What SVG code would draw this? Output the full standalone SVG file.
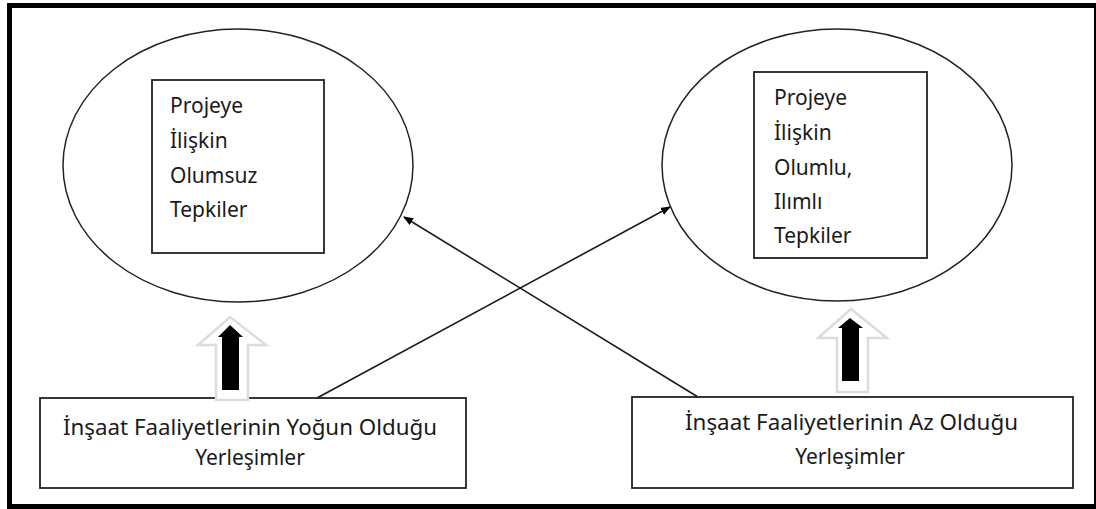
<svg xmlns="http://www.w3.org/2000/svg" width="1096" height="509" viewBox="0 0 1096 509">
<defs>
<style>
.ell{fill:none;stroke:#222;stroke-width:1.5}
.box{fill:#fff;stroke:#222;stroke-width:1.8}
.t{font-family:"Noto Sans","Open Sans",sans-serif;font-size:21px;fill:#1a1a1a}
.c{text-anchor:middle}
.con{stroke:#1a1a1a;stroke-width:1.6;fill:none}
.hollow{fill:#fff;stroke:#dcdcdc;stroke-width:2.5}
.solid{fill:#000}
</style>
<marker id="ah" markerWidth="10" markerHeight="8" refX="9" refY="4" orient="auto" markerUnits="userSpaceOnUse" viewBox="0 0 10 8">
<path d="M0,0 L10,4 L0,8 Z" fill="#000"/>
</marker>
</defs>
<rect x="0" y="0" width="1096" height="509" fill="#fff"/>
<rect x="9.5" y="5.5" width="1087" height="501" fill="none" stroke="#000" stroke-width="5"/>
<g id="node-negative">
<ellipse class="ell" cx="238" cy="165.5" rx="175" ry="136.5"/>
<rect class="box" x="152" y="80" width="172" height="173"/>
<text class="t" x="170" y="113">Projeye</text>
<text class="t" x="170" y="148">İlişkin</text>
<text class="t" x="170" y="183">Olumsuz</text>
<text class="t" x="170" y="217">Tepkiler</text>
</g>
<g id="node-positive">
<ellipse class="ell" cx="837" cy="165" rx="175" ry="136"/>
<rect class="box" x="754" y="72" width="173" height="186"/>
<text class="t" x="774" y="105">Projeye</text>
<text class="t" x="774" y="140">İlişkin</text>
<text class="t" x="774" y="175">Olumlu,</text>
<text class="t" x="774" y="209">Ilımlı</text>
<text class="t" x="774" y="243">Tepkiler</text>
</g>
<g id="node-dense">
<rect class="box" x="40" y="398" width="426" height="90"/>
<text class="t" x="63" y="435" textLength="374" lengthAdjust="spacingAndGlyphs">İnşaat Faaliyetlerinin Yoğun Olduğu</text>
<text class="t c" x="250" y="465">Yerleşimler</text>
</g>
<g id="node-sparse">
<rect class="box" x="632" y="397" width="441" height="91"/>
<text class="t" x="685" y="430" textLength="333" lengthAdjust="spacingAndGlyphs">İnşaat Faaliyetlerinin Az Olduğu</text>
<text class="t c" x="850" y="464">Yerleşimler</text>
</g>
<g id="connectors">
<line class="con" x1="317" y1="398" x2="670" y2="207" marker-end="url(#ah)"/>
<line class="con" x1="698" y1="397" x2="404" y2="217" marker-end="url(#ah)"/>
<path class="hollow" d="M230,317 L266,345 L248,345 L248,400 L216,400 L216,345 L198,345 Z"/>
<path class="solid" d="M230,325 L243,337 L239,337 L239,390 L222,390 L222,337 L218,337 Z"/>
<path class="hollow" d="M851,309 L887,338 L868,338 L868,392 L837,392 L837,338 L818,338 Z"/>
<path class="solid" d="M850,318 L863,328 L859,328 L859,381 L842,381 L842,328 L838,328 Z"/>
</g>
</svg>
